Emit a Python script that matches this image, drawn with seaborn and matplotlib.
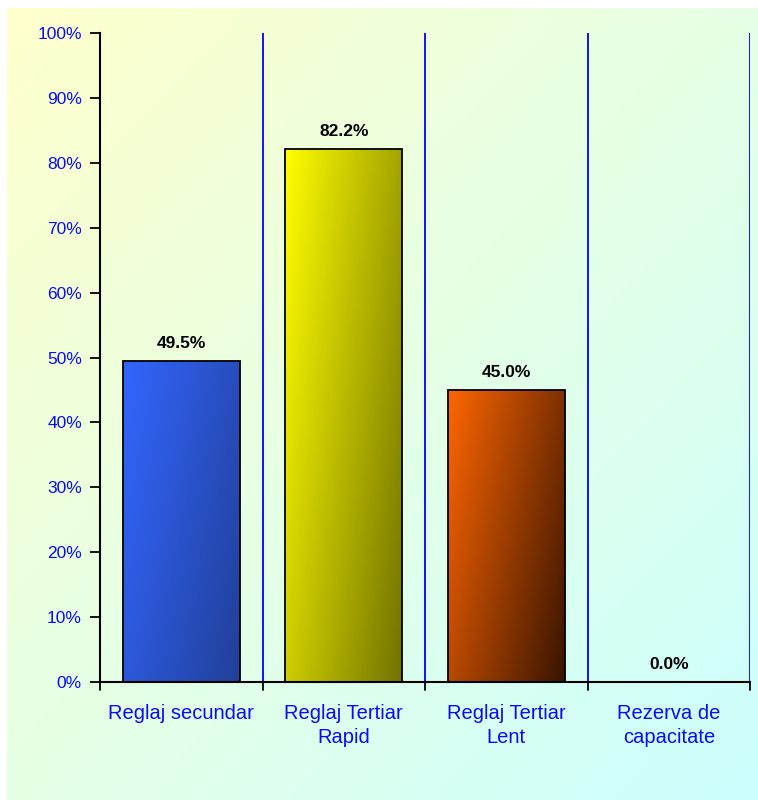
import numpy as np
import pandas as pd
import matplotlib
matplotlib.use("Agg")
import matplotlib.pyplot as plt
import seaborn as sns

# data
categories = ["Reglaj secundar", "Reglaj Tertiar\nRapid", "Reglaj Tertiar\nLent", "Rezerva de\ncapacitate"]
values = [49.5, 82.2, 45.0, 0.0]
yticks = [0, 10, 20, 30, 40, 50, 60, 70, 80, 90, 100]

# bar gradients: light colour (top left) -> dark colour (bottom right)
bar_light = [(0.20, 0.40, 1.00), (1.00, 1.00, 0.00), (1.00, 0.40, 0.00), (0.5, 0.5, 0.5)]
bar_dark = [(0.13, 0.25, 0.60), (0.45, 0.45, 0.00), (0.22, 0.08, 0.00), (0.3, 0.3, 0.3)]

sns.set_style("white")
plt.rcParams['font.family'] = ['Liberation Sans', 'DejaVu Sans']

df = pd.DataFrame({"cat": categories, "val": values})

fig = plt.figure(figsize=(7.58, 8.0), dpi=100)
fig.patch.set_facecolor("white")

# background gradient panel
bg = fig.add_axes([7 / 758, 0, 1 - 7 / 758, 1 - 8 / 800], zorder=-10)
yy, xx = np.mgrid[0:1:200j, 0:1:200j]
t = (xx + yy) / 2
c0 = np.array([1.0, 1.0, 0.80])
c1 = np.array([0.80, 1.0, 1.0])
img = c0[None, None, :] * (1 - t[..., None]) + c1[None, None, :] * t[..., None]
bg.imshow(img, aspect="auto", extent=[0, 1, 1, 0])
bg.set_axis_off()

ax = fig.add_axes([100 / 758, 1 - 682 / 800, 650 / 758, 649 / 800])
ax.patch.set_alpha(0)
sns.barplot(data=df, x="cat", y="val", ax=ax, width=0.72, color="white", edgecolor="black", linewidth=1.3)

# gradient fill inside each bar
g = np.linspace(0, 1, 100)
gx, gy = np.meshgrid(g, g)
gt = (0.65 * gx + 0.35 * gy)
for i, p in enumerate(ax.patches):
    x0, y0 = p.get_x(), p.get_y()
    w, h = p.get_width(), p.get_height()
    if h <= 0:
        p.set_visible(False)
        continue
    a = np.array(bar_light[i])
    b = np.array(bar_dark[i])
    im = a[None, None, :] * (1 - gt[..., None]) + b[None, None, :] * gt[..., None]
    p.set_facecolor("none")
    p.set_zorder(3)
    imh = ax.imshow(im, extent=[x0, x0 + w, y0, y0 + h], origin="upper", aspect="auto", zorder=2)
    imh.set_clip_path(p)

for i, v in enumerate(values):
    ax.text(i, v + 1.5, f"{v:.1f}%", ha="center", va="bottom", fontsize=12.5, fontweight="bold", color="black")

ax.set_xlim(-0.5, 3.5)
ax.set_ylim(0, 100)
ax.set_yticks(yticks)
ax.set_yticklabels([f"{y}%" for y in yticks], color="#0a0aff", fontsize=12.5)
ax.set_xticks(range(len(categories)))
ax.set_xticklabels(categories, color="#0a0aff", fontsize=14.5, linespacing=1.3)
ax.tick_params(axis="x", length=0, pad=16)
ax.tick_params(axis="y", direction="out", length=7, width=1.3, color="black", left=True, pad=6)
for xb in [0.5, 1.5, 2.5, 3.5]:
    ax.axvline(xb, color="#0000ff", lw=1.3, zorder=1)
# tick marks at category boundaries
for xb in [-0.5, 0.5, 1.5, 2.5, 3.5]:
    ax.plot([xb, xb], [0, -1.2], color="black", lw=1.3, clip_on=False)
ax.set_xlabel("")
ax.set_ylabel("")
for s in ["top", "right"]:
    ax.spines[s].set_visible(False)
ax.spines["left"].set_color("black")
ax.spines["left"].set_linewidth(1.5)
ax.spines["bottom"].set_color("black")
ax.spines["bottom"].set_linewidth(1.5)

plt.savefig("out.png", dpi=100)
